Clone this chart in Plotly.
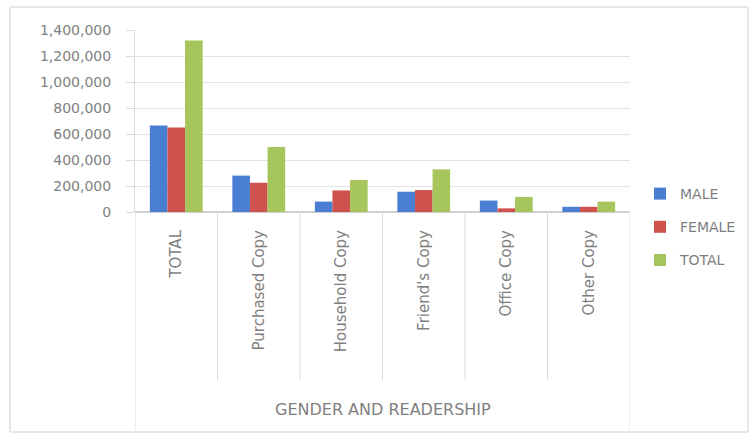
import plotly.graph_objects as go

categories = ["TOTAL", "Purchased Copy", "Household Copy", "Friend's Copy", "Office Copy", "Other Copy"]
male = [665000, 280000, 80000, 156000, 88000, 40000]
female = [650000, 225000, 166000, 169000, 28000, 40000]
total = [1320000, 500000, 246000, 328000, 116000, 80000]
series_names = ["MALE", "FEMALE", "TOTAL"]
y_ticks = [0, 200000, 400000, 600000, 800000, 1000000, 1200000, 1400000]
group_label = "GENDER AND READERSHIP"

colors = ["#4a7ed3", "#d0524e", "#a6c55c"]
FONT = "DejaVu Sans"
TXT = "#7f7f7f"

# plot area in pixels
W, H = 751, 440
L, R, T, B = 135, 630, 30, 212
pw, ph = R - L, B - T

def px_x(x):
    return (x - L) / pw

def px_y(y):
    return (B - y) / ph

fig = go.Figure()
for i, (name, vals) in enumerate(zip(series_names, [male, female, total])):
    fig.add_trace(go.Bar(
        x=categories, y=vals, name=name, marker_color=colors[i],
        marker_line_width=0, legendgroup=name,
    ))

shapes = []
n = len(categories)
for k in range(n + 1):
    outer = k == 0 or k == n
    shapes.append(dict(
        type="line", xref="x", yref="paper",
        x0=k - 0.5, x1=k - 0.5, y0=0, y1=px_y(430 if outer else 380),
        line=dict(color="#d9d9d9", width=1),
    ))
# chart border
shapes.append(dict(
    type="rect", xref="paper", yref="paper",
    x0=px_x(10), x1=px_x(748), y0=px_y(432), y1=px_y(7),
    line=dict(color="#d0d0d0", width=1), fillcolor="rgba(0,0,0,0)", layer="below",
))

fig.update_layout(
    width=W, height=H,
    margin=dict(l=L, r=W - R, t=T, b=H - B, autoexpand=False),
    paper_bgcolor="white", plot_bgcolor="white",
    barmode="group", bargap=0.36, bargroupgap=0,
    font=dict(family=FONT, color=TXT, size=13),
    showlegend=True,
    legend=dict(
        x=px_x(640), y=px_y(178), xanchor="left", yanchor="top",
        font=dict(size=14, color=TXT, family=FONT),
        tracegroupgap=12, bgcolor="rgba(0,0,0,0)",
    ),
    shapes=shapes,
    annotations=[dict(
        text=group_label, xref="paper", yref="paper",
        x=0.5, y=px_y(410), xanchor="center", yanchor="middle",
        showarrow=False, font=dict(size=16, color=TXT, family=FONT),
    )],
)

fig.update_xaxes(
    type="category", tickangle=-90, showgrid=False, showline=False,
    ticks="", ticklabelstandoff=14, tickfont=dict(size=15, color=TXT),
    range=[-0.5, n - 0.5], zeroline=False,
)
fig.update_yaxes(
    range=[0, 1400000], tickvals=y_ticks,
    ticktext=[f"{v:,}" for v in y_ticks],
    showgrid=True, gridcolor="#e3e3e3", gridwidth=1,
    showline=True, linecolor="#d9d9d9", linewidth=1,
    ticks="outside", ticklen=8, tickcolor="#d9d9d9",
    ticklabelstandoff=12,
    tickfont=dict(size=14, color=TXT), zeroline=True, zerolinecolor="#d0d0d0",
)

fig.write_html("out.html", config={"displayModeBar": False},
               post_script="document.body.style.margin='0';")
